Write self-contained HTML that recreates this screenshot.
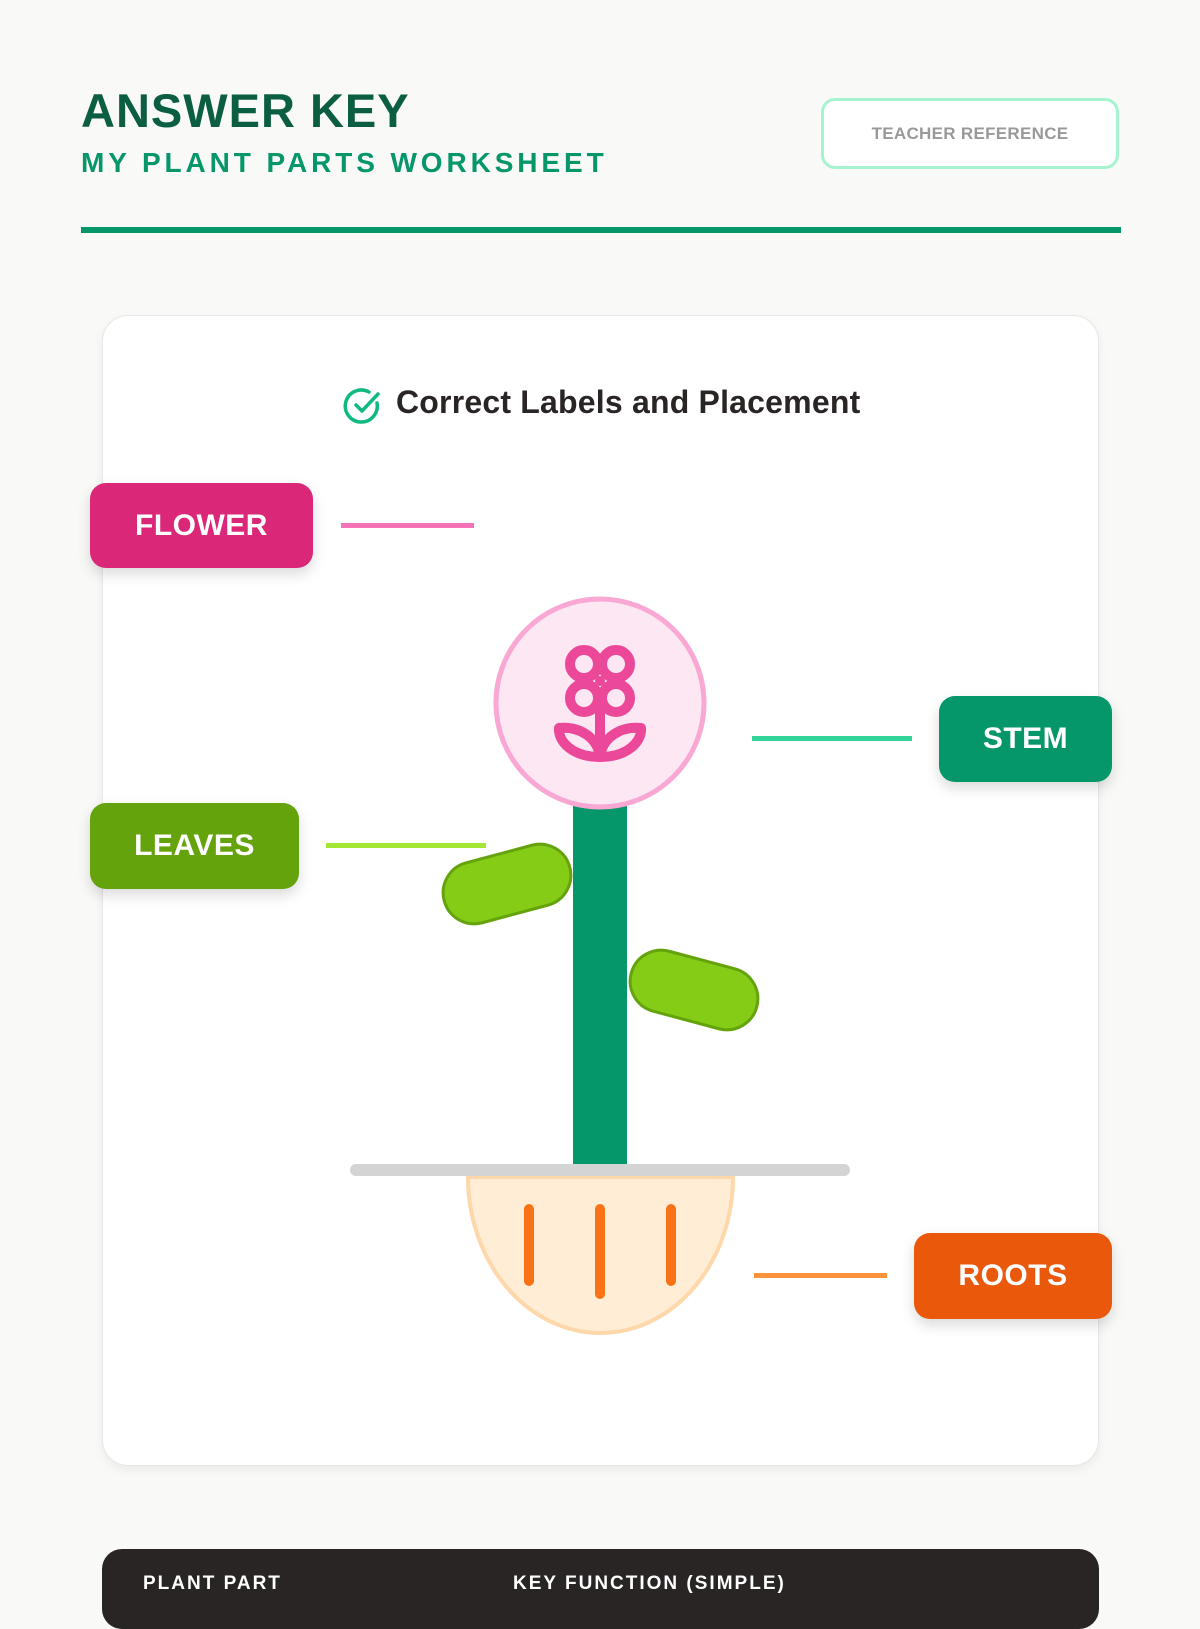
<!DOCTYPE html>
<html><head><meta charset="utf-8"><style>
*{margin:0;padding:0;box-sizing:border-box}
body{width:1200px;height:1600px;background:#f9f9f7;position:relative;overflow:hidden;font-family:"Liberation Sans",sans-serif}
.a{position:absolute}
.lbl{position:absolute;border-radius:16px;color:#fff;font-weight:900;font-size:30px;display:flex;align-items:center;justify-content:center;box-shadow:0 6px 14px rgba(0,0,0,.15);letter-spacing:0.5px}
.ln{position:absolute;height:5px}
</style></head><body>
<div class="a" style="left:81px;top:83px;font-size:47px;font-weight:900;color:#0b5e42;letter-spacing:1px">ANSWER KEY</div>
<div class="a" style="left:81px;top:147px;font-size:28px;font-weight:700;color:#059669;letter-spacing:3.9px">MY PLANT PARTS WORKSHEET</div>
<div class="a" style="left:821px;top:98px;width:298px;height:71px;border:3px solid #a7f3d0;border-radius:14px;background:#fff;display:flex;align-items:center;justify-content:center;color:#999;font-size:17px;font-weight:700;letter-spacing:0.3px">TEACHER REFERENCE</div>
<div class="a" style="left:81px;top:227px;width:1040px;height:6px;background:#059669"></div>

<div class="a" style="left:102px;top:315px;width:997px;height:1151px;background:#fff;border:1px solid #e7e7e5;border-radius:26px;box-shadow:0 4px 10px rgba(0,0,0,.06)"></div>
<svg class="a" style="left:343px;top:386px" width="40" height="40" viewBox="0 0 40 40"><path d="M34 17 A16 16 0 1 1 26 6" fill="none" stroke="#10b981" stroke-width="3.5" stroke-linecap="round"/><path d="M13 19 L19 25 L35 8" fill="none" stroke="#10b981" stroke-width="3.5" stroke-linecap="round" stroke-linejoin="round"/></svg>
<div class="a" style="left:396px;top:384px;font-size:32px;font-weight:700;color:#292524;letter-spacing:0.2px">Correct Labels and Placement</div>

<div class="lbl" style="left:90px;top:483px;width:223px;height:85px;background:#db2777">FLOWER</div>
<div class="ln" style="left:341px;top:523px;width:133px;background:#f472b6"></div>
<div class="lbl" style="left:939px;top:696px;width:173px;height:86px;background:#059669">STEM</div>
<div class="ln" style="left:752px;top:736px;width:160px;background:#34d399"></div>
<div class="lbl" style="left:90px;top:803px;width:209px;height:86px;background:#65a30d">LEAVES</div>
<div class="ln" style="left:326px;top:843px;width:160px;background:#a3e635"></div>
<div class="lbl" style="left:914px;top:1233px;width:198px;height:86px;background:#ea580c">ROOTS</div>
<div class="ln" style="left:754px;top:1273px;width:133px;background:#fb923c"></div>

<svg class="a" style="left:0;top:0" width="1200" height="1600">
<rect x="573" y="790" width="54" height="381" fill="#059669"/>
<g transform="translate(507,884) rotate(-15)"><rect x="-65" y="-31" width="130" height="62" rx="31" fill="#84cc16" stroke="#65a30d" stroke-width="3"/></g>
<g transform="translate(694,990) rotate(15)"><rect x="-65" y="-31" width="130" height="62" rx="31" fill="#84cc16" stroke="#65a30d" stroke-width="3"/></g>
<circle cx="600" cy="703" r="104" fill="#fce7f3" stroke="#f9a8d4" stroke-width="5"/>
<g fill="none" stroke="#ec4899" stroke-width="10">
<circle cx="584" cy="664" r="14"/><circle cx="616" cy="664" r="14"/><circle cx="584" cy="698" r="14"/><circle cx="616" cy="698" r="14"/>
<line x1="600" y1="705" x2="600" y2="757"/>
<path d="M600 757 C573 757 558 742 559 728 C580 726 598 738 600 757 Z" stroke-linejoin="round"/>
<path d="M600 757 C627 757 642 742 641 728 C620 726 602 738 600 757 Z" stroke-linejoin="round"/>
</g>
<circle cx="600" cy="681" r="5" fill="#ec4899"/>
<path d="M468 1177 L733 1177 A132.5 156 0 0 1 468 1177 Z" fill="#ffedd5" stroke="#fed7aa" stroke-width="4"/>
<rect x="350" y="1164" width="500" height="12" rx="6" fill="#d4d4d4"/>
<g stroke="#f97316" stroke-width="10" stroke-linecap="round">
<line x1="529" y1="1209" x2="529" y2="1281"/><line x1="600" y1="1209" x2="600" y2="1294"/><line x1="671" y1="1209" x2="671" y2="1281"/>
</g>
</svg>

<div class="a" style="left:102px;top:1549px;width:997px;height:80px;background:#292524;border-radius:20px"></div>
<div class="a" style="left:143px;top:1573px;font-size:19px;font-weight:700;color:#fff;letter-spacing:2px">PLANT PART</div>
<div class="a" style="left:513px;top:1573px;font-size:19px;font-weight:700;color:#fff;letter-spacing:2px">KEY FUNCTION (SIMPLE)</div>
</body></html>
